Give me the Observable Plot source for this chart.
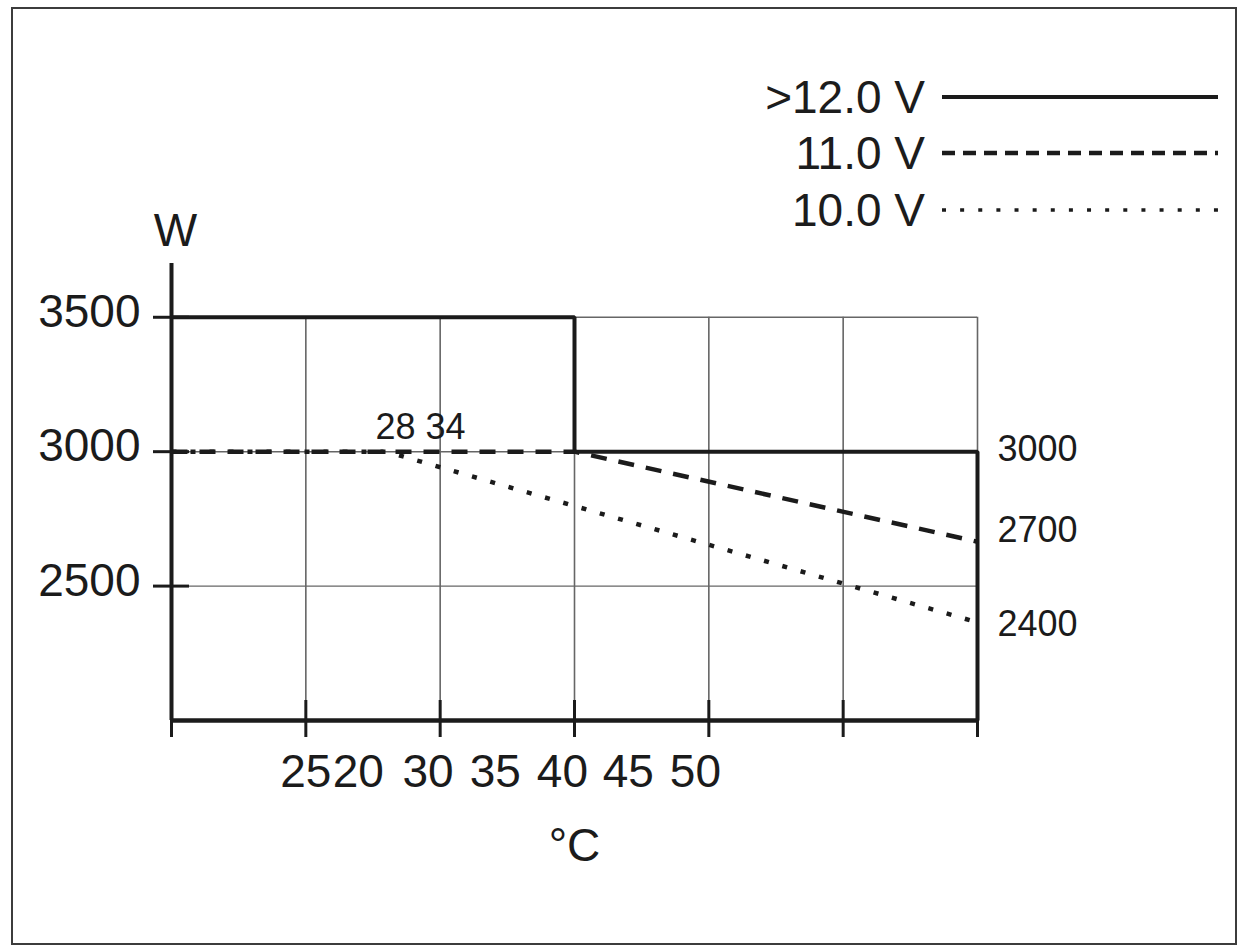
<!DOCTYPE html>
<html><head><meta charset="utf-8">
<script src="https://cdn.jsdelivr.net/npm/d3@7"></script>
<script src="https://cdn.jsdelivr.net/npm/@observablehq/plot@0.6"></script>
<style>
html,body{margin:0;padding:0;background:#fff;}
body{width:1240px;height:946px;position:relative;overflow:hidden;font-family:"Liberation Sans",Arial,sans-serif;color:#1c1c1c;}
#frame{position:absolute;left:11px;top:7px;width:1226px;height:938px;box-sizing:border-box;border:2px solid #3c3c3c;pointer-events:none;}
#chart{position:absolute;left:0;top:0;}
#legend{position:absolute;left:0;top:0;width:1240px;height:240px;}
.lg-label{position:absolute;left:0;width:925px;text-align:right;font-size:46px;line-height:60px;white-space:nowrap;}
.lg-swatch{position:absolute;left:942px;overflow:visible;}
</style></head>
<body>
<div id="chart"></div>
<div id="legend"></div>
<div id="frame"></div>
<script>
// ---- data ----
const seriesNames = [">12.0 V", "11.0 V", "10.0 V"];
const temp12 = [20, 35, 35, 50, 50];
const watt12 = [3500, 3500, 3000, 3000, 2000];
const temp11 = [20, 35, 50];
const watt11 = [3000, 3000, 2665];
const temp10 = [20, 28, 50];
const watt10 = [3000, 3000, 2365];
const xTicks = [20, 25, 30, 35, 40, 45, 50];
const yTicks = [2500, 3000, 3500];
const xTickLabels = ["25", "20", "30", "35", "40", "45", "50"];
const xTickLabelAt = [25, 26.95, 29.55, 32.05, 34.55, 37.0, 39.5];
const endLabels = ["3000", "2700", "2400"];
const endLabelAt = [3000, 2700, 2350];
const breakLabel = "28 34";
const breakTemp = 28;
const breakWatt = 3000;
const xLabel = "°C";
const yLabel = "W";
const xDomain = [20, 50];
const yDomain = [2000, 3700];

// ---- styles ----
const ink = "#1b1b1b";
const gridInk = "#666666";
const chartDash = [null, "16 12", "5 14"];
const chartWidth = [4, 4.5, 4.5];
const legendDash = [null, "13 8", "4 14.13"];
const legendWidth = [4, 4.5, 3.5];
const legendY = [97, 153, 210];

const rows = (t, w) => t.map((x, i) => ({t: x, w: w[i]}));
const series = [rows(temp12, watt12), rows(temp11, watt11), rows(temp10, watt10)];

const lineMarks = [2, 1, 0].map(k => Plot.line(series[k], {
  x: "t", y: "w", stroke: ink, strokeWidth: chartWidth[k],
  strokeDasharray: chartDash[k] || undefined,
  strokeLinejoin: "miter", strokeLinecap: "butt"
}));

const chart = Plot.plot({
  width: 1240, height: 946,
  marginLeft: 171, marginRight: 263, marginTop: 263, marginBottom: 226,
  style: {fontFamily: "'Liberation Sans', Arial, sans-serif", color: ink, background: "transparent", overflow: "visible"},
  x: {domain: xDomain, label: null},
  y: {domain: yDomain, label: null},
  marks: [
    Plot.ruleX(xTicks, {y1: yDomain[0], y2: d3.max(yTicks), stroke: gridInk, strokeWidth: 1.6}),
    Plot.ruleY(yTicks, {x1: xDomain[0], x2: xDomain[1], stroke: gridInk, strokeWidth: 1.4}),
    ...lineMarks,
    Plot.ruleX([xDomain[0]], {stroke: ink, strokeWidth: 4}),
    Plot.ruleY([yDomain[0]], {stroke: ink, strokeWidth: 4.5}),
    Plot.axisX({ticks: xTicks, tickSize: 17, tickFormat: () => "", strokeWidth: 3, label: null}),
    Plot.axisX({ticks: xTicks, tickSize: -20, tickFormat: () => "", strokeWidth: 3, label: null}),
    Plot.axisY({ticks: yTicks, tickSize: 18, tickFormat: () => "", strokeWidth: 3, label: null}),
    Plot.axisY({ticks: yTicks, tickSize: -18, tickFormat: () => "", strokeWidth: 3, label: null}),
    Plot.axisY({ticks: yTicks, tickSize: 0, tickPadding: 31, dy: -5, fontSize: 46, tickFormat: d3.format("d"), label: null}),
    Plot.text(xTickLabels, {x: (d, i) => xTickLabelAt[i], y: yDomain[0], dy: 52, fontSize: 46, textAnchor: "middle", fill: ink}),
    Plot.text([xLabel], {frameAnchor: "bottom", lineAnchor: "middle", textAnchor: "middle", dy: 126, fontSize: 46, fill: ink}),
    Plot.text([yLabel], {frameAnchor: "top-left", lineAnchor: "middle", textAnchor: "middle", dx: 4, dy: -32, fontSize: 46, fill: ink}),
    Plot.text(endLabels, {x: xDomain[1], y: (d, i) => endLabelAt[i], dx: 20, dy: -2, textAnchor: "start", fontSize: 36, fill: ink}),
    Plot.text([breakLabel], {x: breakTemp, y: breakWatt, dx: -11, dy: -24, textAnchor: "start", fontSize: 36, fill: ink})
  ]
});
document.getElementById("chart").appendChild(chart);

// ---- legend ----
const legend = document.getElementById("legend");
const NS = "http://www.w3.org/2000/svg";
seriesNames.forEach((name, k) => {
  const lab = document.createElement("div");
  lab.className = "lg-label";
  lab.style.top = (legendY[k] - 30) + "px";
  lab.textContent = name;
  legend.appendChild(lab);
  const svg = document.createElementNS(NS, "svg");
  svg.setAttribute("class", "lg-swatch");
  svg.setAttribute("width", 276);
  svg.setAttribute("height", 12);
  svg.style.top = (legendY[k] - 6) + "px";
  const ln = document.createElementNS(NS, "line");
  ln.setAttribute("x1", 0); ln.setAttribute("x2", 276);
  ln.setAttribute("y1", 6); ln.setAttribute("y2", 6);
  ln.setAttribute("stroke", ink);
  ln.setAttribute("stroke-width", legendWidth[k]);
  if (legendDash[k]) ln.setAttribute("stroke-dasharray", legendDash[k]);
  svg.appendChild(ln);
  legend.appendChild(svg);
});
</script>
</body></html>
